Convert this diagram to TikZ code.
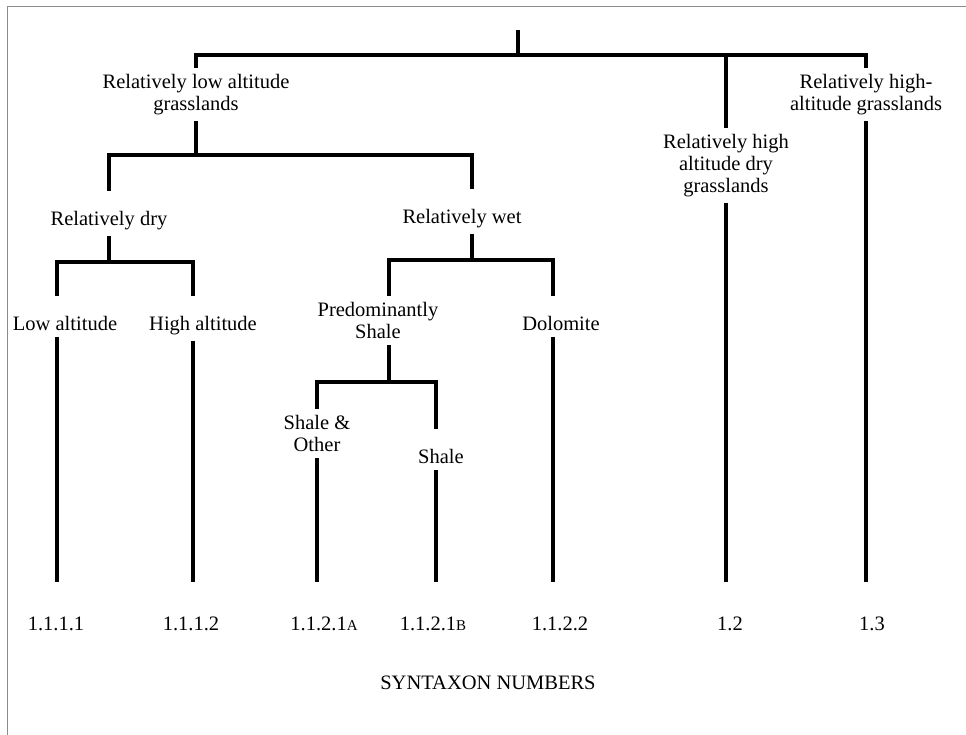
\documentclass[tikz,border=0pt]{standalone}
\usepackage{fontspec}
\setmainfont{Liberation Serif}
\usepackage{tikz}

\newcommand{\smcap}[1]{{\fontsize{15}{15}\selectfont #1}}

\begin{document}
\begin{tikzpicture}[
    x=1pt, y=-1pt,
    lbl/.style={align=center, anchor=north, inner sep=6pt,
                font=\fontsize{20.5}{22}\selectfont,
                execute at begin node={\rule{0pt}{28pt}}},
    num/.style={anchor=north, inner sep=6pt,
                font=\fontsize{20.5}{22}\selectfont,
                execute at begin node={\rule{0pt}{42pt}}},
    conn/.style={line width=3.6pt},
    frame/.style={line width=1pt, black!45}
  ]
  \useasboundingbox (0,0) rectangle (966,735);
  \draw[frame] (7,735) -- (7,7) -- (966,7);

  \node[lbl] (lowg)  at (196,68)  {Relatively low altitude\\grasslands};
  \node[lbl] (hidry) at (726,128) {Relatively high\\altitude dry\\grasslands};
  \node[lbl] (hig)   at (866,68)  {Relatively high-\\altitude grasslands};
  \node[lbl] (dry)   at (109,191) {Relatively dry};
  \node[lbl] (wet)   at (462,189) {Relatively wet};
  \node[lbl] (lowa)  at (65,296)  {Low altitude};
  \node[lbl] (higha) at (203,296) {High altitude};
  \node[lbl] (pred)  at (378,296) {Predominantly\\Shale};
  \node[lbl] (dolo)  at (561,296) {Dolomite};
  \node[lbl] (shot)  at (317,409) {Shale \&\\Other};
  \node[lbl] (shale) at (441,429) {Shale};

  \node[num] (n1) at (56,582)  {1.1.1.1};
  \node[num] (n2) at (191,582) {1.1.1.2};
  \node[num] (n3) at (324,582) {1.1.2.1\smcap{A}};
  \node[num] (n4) at (433,582) {1.1.2.1\smcap{B}};
  \node[num] (n5) at (560,582) {1.1.2.2};
  \node[num] (n6) at (730,582) {1.2};
  \node[num] (n7) at (872,582) {1.3};

  \node[font=\fontsize{20.5}{22}\selectfont, anchor=base] (title) at (488,689) {SYNTAXON NUMBERS};

  \coordinate (root) at (518,30);
  \coordinate (j0) at (518,55);
  \coordinate (j1) at (196,155);
  \coordinate (j2) at (109,262);
  \coordinate (j3) at (472,260);
  \coordinate (j4) at (389,382);

  \draw[conn] (root) -- (j0);
  \draw[conn] (lowg.north) |- (j0) -| (hig.north);
  \draw[conn] (hidry.north) -- (hidry.north |- j0);

  \draw[conn] (lowg.south) -- (j1);
  \draw[conn] (dry.north) |- (j1) -| ([xshift=10pt]wet.north);

  \draw[conn] (dry.south) -- (j2);
  \draw[conn] ([xshift=-8pt]lowa.north) |- (j2) -| ([xshift=-10pt]higha.north);

  \draw[conn] ([xshift=10pt]wet.south) -- (j3);
  \draw[conn] ([xshift=11pt]pred.north) |- (j3) -| ([xshift=-8pt]dolo.north);

  \draw[conn] ([xshift=11pt]pred.south) -- (j4);
  \draw[conn] (shot.north) |- (j4) -| ([xshift=-5pt]shale.north);

  \draw[conn] ([xshift=-8pt]lowa.south) -- ([xshift=-8pt]lowa.south |- n1.north);
  \draw[conn] ([xshift=-10pt]higha.south) -- ([xshift=-10pt]higha.south |- n2.north);
  \draw[conn] (shot.south) -- (shot.south |- n3.north);
  \draw[conn] ([xshift=-5pt]shale.south) -- ([xshift=-5pt]shale.south |- n4.north);
  \draw[conn] ([xshift=-8pt]dolo.south) -- ([xshift=-8pt]dolo.south |- n5.north);
  \draw[conn] (hidry.south) -- (hidry.south |- n6.north);
  \draw[conn] (hig.south) -- (hig.south |- n7.north);

\end{tikzpicture}
\end{document}
